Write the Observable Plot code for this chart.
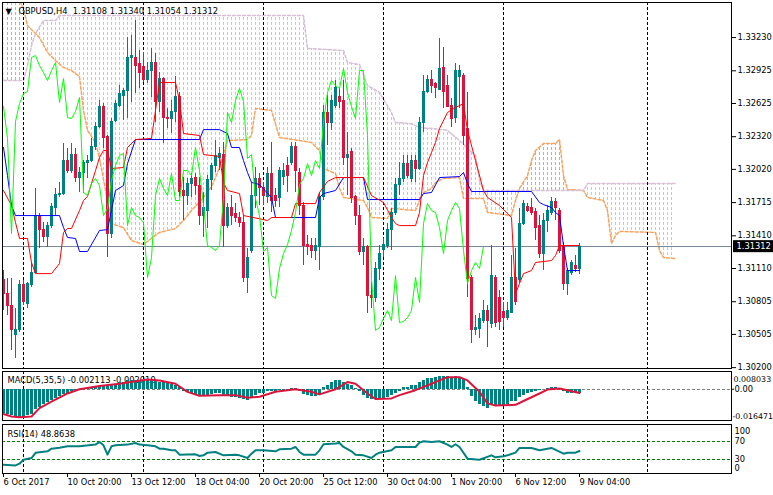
<!DOCTYPE html>
<html><head><meta charset="utf-8">
<script src="https://cdn.jsdelivr.net/npm/d3@7"></script>
<script src="https://cdn.jsdelivr.net/npm/@observablehq/plot@0.6"></script>
<style>
html,body{margin:0;padding:0;background:#fff;}
#chart{position:relative;width:773px;height:495px;overflow:hidden;background:#fff;}
#chart svg{position:absolute;left:0;overflow:visible;}
</style></head><body><div id="chart"></div>
<script>
// ---------- data ----------
const symbol = "GBPUSD", timeframe = "H4";
const open = [1.31000,1.30880,1.30770,1.30495,1.30549,1.30954,1.30788,1.30954,1.31073,1.31596,
1.31459,1.31395,1.31504,1.31670,1.31789,1.31798,1.32101,1.32009,1.32156,1.31945,
1.31991,1.32083,1.32101,1.32221,1.32413,1.32597,1.32313,1.31431,1.32468,1.32606,
1.32698,1.32735,1.33047,1.33047,1.32991,1.32964,1.32844,1.32927,1.33001,1.32634,
1.32854,1.32496,1.32487,1.32551,1.32680,1.31826,1.31780,1.31890,1.31945,1.31872,
1.31596,1.31642,1.31918,1.32055,1.32129,1.32156,1.31504,1.31670,1.31614,1.31578,
1.31532,1.31027,1.31275,1.31780,1.31936,1.31845,1.31762,1.31981,1.31780,1.31753,
1.31954,1.32055,1.32083,1.32221,1.31991,1.31688,1.31330,1.31321,1.31275,1.31303,
1.31762,1.32542,1.32450,1.32606,1.32680,1.32652,1.32120,1.32175,1.31762,1.31596,
1.31266,1.31303,1.30862,1.30835,1.31110,1.31284,1.31321,1.31459,1.31624,1.31881,
1.31936,1.32073,1.31936,1.32101,1.32028,1.32450,1.32726,1.32836,1.32808,1.32753,
1.32955,1.32790,1.32606,1.32496,1.32872,1.32881,1.32395,1.31027,1.30541,1.30559,
1.30632,1.30724,1.30604,1.31027,1.30835,1.30715,1.30660,1.30706,1.31027,1.31000,
1.31522,1.31679,1.31661,1.31633,1.31504,1.31247,1.31550,1.31624,1.31716,1.31642,
1.31321,1.30972,1.31073,1.31137,1.31108];
const high = [1.31091,1.31018,1.31018,1.30743,1.31000,1.31000,1.30982,1.31165,1.31845,1.31614,
1.31532,1.31532,1.31706,1.31845,1.31900,1.32257,1.32212,1.32257,1.32212,1.32037,
1.32101,1.32147,1.32304,1.32450,1.32652,1.32624,1.32331,1.32487,1.32652,1.32790,
1.32763,1.33231,1.33249,1.33386,1.33111,1.33093,1.33001,1.33130,1.33083,1.32909,
1.32863,1.32579,1.32652,1.32872,1.32726,1.31945,1.31936,1.31981,1.31981,1.31945,
1.31808,1.31963,1.32073,1.32285,1.32221,1.32267,1.31706,1.31780,1.31706,1.31624,
1.31596,1.31294,1.31900,1.32037,1.31981,1.31900,1.32037,1.32267,1.31845,1.32037,
1.32073,1.32129,1.32267,1.32267,1.32028,1.31716,1.31413,1.31386,1.31386,1.31808,
1.32606,1.32698,1.32698,1.32836,1.32763,1.32836,1.32359,1.32212,1.31780,1.31688,
1.31386,1.31321,1.30982,1.31165,1.31321,1.31386,1.31522,1.31661,1.31936,1.32083,
1.32147,1.32147,1.32147,1.32147,1.32496,1.32881,1.32881,1.32927,1.32818,1.33222,
1.33139,1.32881,1.32671,1.32991,1.32973,1.32899,1.32726,1.31045,1.30678,1.30696,
1.30816,1.30770,1.31321,1.31045,1.30908,1.30798,1.30798,1.31229,1.31294,1.31661,
1.31734,1.31706,1.31753,1.31661,1.31596,1.31614,1.31688,1.31762,1.31753,1.31661,
1.31349,1.31110,1.31183,1.31229,1.31340];
const low = [1.30724,1.30678,1.30357,1.30284,1.30523,1.30770,1.30743,1.30936,1.31063,1.31294,
1.31349,1.31303,1.31477,1.31596,1.31762,1.31780,1.31981,1.31981,1.31900,1.31808,
1.31798,1.31936,1.32083,1.32193,1.32395,1.32212,1.31211,1.31386,1.32450,1.32588,
1.32468,1.32487,1.32634,1.32716,1.32763,1.32818,1.32808,1.32680,1.32450,1.32542,
1.32257,1.32395,1.32349,1.32450,1.31762,1.31550,1.31688,1.31762,1.31780,1.31504,
1.31395,1.31477,1.31826,1.31991,1.32009,1.31303,1.31477,1.31504,1.31532,1.31486,
1.30982,1.30880,1.31247,1.31661,1.31688,1.31688,1.31706,1.31624,1.31670,1.31670,
1.31872,1.31808,1.32055,1.31808,1.31596,1.31137,1.31229,1.31202,1.31183,1.31091,
1.31734,1.32239,1.32377,1.32579,1.32579,1.32055,1.31780,1.31706,1.31504,1.31229,
1.31137,1.30696,1.30743,1.30798,1.31000,1.31211,1.31294,1.31275,1.31596,1.31780,
1.31900,1.31936,1.31900,1.31900,1.32009,1.32359,1.32716,1.32716,1.32671,1.32744,
1.32579,1.32588,1.32404,1.32440,1.32579,1.32239,1.30844,1.30421,1.30495,1.30468,
1.30604,1.30385,1.30559,1.30568,1.30541,1.30568,1.30632,1.30696,1.30770,1.30972,
1.31504,1.31624,1.31596,1.31367,1.31202,1.31091,1.31441,1.31596,1.31550,1.31247,
1.30908,1.30862,1.31045,1.31073,1.31054];
const close = [1.30880,1.30770,1.30541,1.30541,1.30954,1.30798,1.30972,1.31073,1.31596,1.31459,
1.31395,1.31504,1.31679,1.31789,1.31798,1.32101,1.32009,1.32156,1.31945,1.31991,
1.32083,1.32101,1.32221,1.32413,1.32597,1.32304,1.31431,1.32459,1.32624,1.32716,
1.32735,1.33047,1.33065,1.32973,1.32909,1.32836,1.32927,1.33001,1.32634,1.32854,
1.32496,1.32487,1.32551,1.32680,1.31808,1.31780,1.31890,1.31936,1.31872,1.31596,
1.31661,1.31918,1.32055,1.32147,1.32165,1.31504,1.31670,1.31596,1.31578,1.31532,
1.31027,1.31211,1.31780,1.31936,1.31845,1.31780,1.31981,1.31734,1.31734,1.32009,
1.32009,1.31963,1.32221,1.32009,1.31688,1.31321,1.31303,1.31275,1.31321,1.31762,
1.32542,1.32450,1.32652,1.32763,1.32643,1.32120,1.32156,1.31753,1.31596,1.31266,
1.31303,1.30862,1.30835,1.31110,1.31247,1.31330,1.31459,1.31624,1.31881,1.31936,
1.32073,1.31963,1.32101,1.32028,1.32450,1.32726,1.32836,1.32790,1.32763,1.32946,
1.32726,1.32597,1.32487,1.32927,1.32927,1.32331,1.31018,1.30541,1.30568,1.30651,
1.30724,1.30632,1.31045,1.30614,1.30623,1.30660,1.30724,1.31027,1.30798,1.31522,
1.31706,1.31642,1.31624,1.31486,1.31247,1.31550,1.31642,1.31716,1.31661,1.31275,
1.30972,1.31091,1.31165,1.31110,1.31312];

// Ichimoku lines, read as [bar index, price] vertices
const tenkan = [[0,1.31826],[2,1.31688],[3,1.31532],[4,1.31386],[6,1.31386],[7,1.31165],[8,1.31063],[12,1.31063],[14,1.31155],[15,1.31441],
[16,1.31477],[17,1.31477],[19,1.31642],[20,1.31734],[21,1.31771],[23,1.32009],[24,1.32129],[25,1.32193],[26,1.32193],[27,1.32028],
[30,1.32037],[31,1.32221],[33,1.32294],[37,1.32304],[38,1.32560],[39,1.32818],[43,1.32818],[44,1.32652],[45,1.32349],[49,1.32331],
[50,1.32156],[54,1.32138],[55,1.31900],[56,1.31826],[59,1.31798],[60,1.31596],[65,1.31559],[66,1.31550],[67,1.31578],[72,1.31578],
[73,1.31706],[78,1.31706],[79,1.31808],[81,1.31909],[83,1.31945],[90,1.31945],[92,1.31780],[95,1.31716],[97,1.31578],[98,1.31522],
[99,1.31504],[103,1.31504],[104,1.31624],[105,1.31963],[106,1.32083],[107,1.32175],[108,1.32267],[109,1.32395],[111,1.32542],[113,1.32588],
[115,1.32624],[116,1.32377],[118,1.32101],[120,1.31826],[121,1.31762],[124,1.31688],[126,1.31614],[127,1.31578],[128,1.30880],[129,1.30972],
[130,1.31063],[132,1.31091],[133,1.31165],[137,1.31183],[138,1.31229],[139,1.31321],[144,1.31321]];
const kijun = [[0,1.32221],[1,1.31963],[2,1.31688],[3,1.31596],[14,1.31596],[15,1.31486],[16,1.31395],[18,1.31386],[19,1.31266],[21,1.31266],
[24,1.31459],[26,1.31467],[28,1.31826],[30,1.31872],[31,1.32073],[33,1.32294],[49,1.32294],[50,1.32385],[54,1.32385],[56,1.32349],
[57,1.32221],[59,1.32221],[60,1.32101],[61,1.31991],[62,1.31900],[64,1.31881],[67,1.31762],[68,1.31578],[78,1.31578],[79,1.31762],
[80,1.31798],[83,1.31826],[85,1.31945],[90,1.31945],[91,1.31743],[104,1.31743],[105,1.31798],[107,1.31808],[109,1.31945],[114,1.31954],
[115,1.31991],[116,1.31890],[117,1.31817],[132,1.31817],[134,1.31716],[135,1.31697],[137,1.31670],[138,1.31624],[139,1.31596],[140,1.31321],
[141,1.31091],[144,1.31091]];
const spanA = [[0,1.33845],[5,1.33497],[6,1.33340],[8,1.33267],[9,1.33231],[11,1.33093],[13,1.33019],[15,1.32955],[17,1.32927],[19,1.32872],
[20,1.32560],[21,1.32377],[23,1.32267],[24,1.32120],[26,1.31734],[27,1.31522],[30,1.31486],[32,1.31367],[35,1.31330],[37,1.31386],
[39,1.31441],[43,1.31477],[45,1.31550],[47,1.31642],[50,1.31762],[52,1.31863],[53,1.31945],[54,1.32037],[56,1.32285],[61,1.32294],
[62,1.32331],[63,1.32579],[67,1.32560],[69,1.32313],[77,1.32267],[79,1.32193],[80,1.32028],[83,1.31981],[84,1.31845],[85,1.31762],
[90,1.31734],[91,1.31670],[92,1.31578],[96,1.31569],[97,1.31661],[103,1.31642],[104,1.31734],[105,1.31808],[107,1.31845],[108,1.31900],
[110,1.31936],[114,1.31945],[115,1.31753],[120,1.31753],[121,1.31624],[127,1.31596],[128,1.31734],[129,1.31845],[131,1.31963],[132,1.32101],
[133,1.32193],[135,1.32257],[138,1.32257],[139,1.32294],[140,1.31963],[141,1.31835],[145,1.31826],[146,1.31762],[150,1.31734],[151,1.31642],
[152,1.31339],[153,1.31413],[154,1.31450],[163,1.31441],[164,1.31275],[165,1.31211],[168,1.31202]];
const spanB = [[0,1.32836],[5,1.32836],[6,1.32973],[7,1.33157],[8,1.33267],[10,1.33386],[13,1.33386],[14,1.33432],[75,1.33432],[76,1.33130],
[85,1.33111],[86,1.33001],[89,1.32982],[91,1.32790],[94,1.32726],[97,1.32542],[98,1.32450],[102,1.32440],[104,1.32404],[110,1.32385],
[111,1.32377],[114,1.32285],[116,1.32212],[118,1.32147],[119,1.31918],[120,1.31826],[145,1.31826],[146,1.31890],[168,1.31890]];
const chikouShift = 24;

// MACD(5,35,5): main values per bar (histogram) and signal vertices
const macdMain = [-0.0130,-0.0135,-0.0142,-0.0150,-0.0153,-0.0153,-0.0142,-0.0135,-0.0112,-0.0098,
-0.0085,-0.0073,-0.0059,-0.0050,-0.0041,-0.0028,-0.0023,-0.0014,-0.0011,-0.0007,
0.0000,0.0004,0.0007,0.0011,0.0014,0.0016,0.0014,0.0021,0.0028,0.0036,
0.0039,0.0046,0.0050,0.0048,0.0046,0.0044,0.0046,0.0046,0.0043,0.0039,
0.0036,0.0032,0.0028,0.0021,0.0007,-0.0011,-0.0018,-0.0025,-0.0028,-0.0036,
-0.0039,-0.0036,-0.0028,-0.0023,-0.0021,-0.0036,-0.0041,-0.0043,-0.0046,-0.0050,
-0.0057,-0.0061,-0.0046,-0.0032,-0.0025,-0.0021,-0.0014,-0.0014,-0.0014,-0.0007,
-0.0007,-0.0007,0.0004,0.0004,-0.0014,-0.0028,-0.0036,-0.0041,-0.0041,-0.0028,
0.0007,0.0021,0.0036,0.0046,0.0050,0.0039,0.0028,0.0018,0.0004,-0.0014,
-0.0032,-0.0050,-0.0057,-0.0057,-0.0057,-0.0053,-0.0046,-0.0036,-0.0025,-0.0014,
0.0007,0.0007,0.0018,0.0021,0.0036,0.0050,0.0057,0.0060,0.0064,0.0068,
0.0069,0.0069,0.0066,0.0068,0.0064,0.0053,0.0007,-0.0041,-0.0064,-0.0085,
-0.0096,-0.0103,-0.0085,-0.0094,-0.0094,-0.0089,-0.0082,-0.0068,-0.0064,-0.0046,
-0.0036,-0.0025,-0.0018,-0.0014,-0.0007,0.0000,0.0004,0.0007,0.0007,0.0000,
-0.0014,-0.0021,-0.0025,-0.0025,-0.002113];
const macdSignal = [[0,-0.0135],[2,-0.0148],[4,-0.0153],[7,-0.0148],[9,-0.0103],[12,-0.0068],[16,-0.0023],[19,0],[24,0.0018],[29,0.0030],
[33,0.0043],[36,0.0053],[39,0.0048],[43,0.0030],[46,-0.0014],[49,-0.0036],[54,-0.0032],[58,-0.0032],[61,-0.0046],[64,-0.0041],
[68,-0.0014],[73,0],[77,-0.0014],[79,-0.0028],[83,0],[86,0.0039],[88,0.0030],[91,-0.0023],[93,-0.0053],[97,-0.0050],
[99,-0.0032],[103,-0.0005],[107,0.0030],[111,0.0066],[114,0.0066],[116,0.0048],[119,-0.0014],[121,-0.0077],[123,-0.0089],[128,-0.0085],
[130,-0.0064],[134,-0.0023],[136,-0.0002],[139,0.0004],[141,-0.0005],[144,-0.002019]];
const macdMax = 0.008033, macdMin = -0.016471;

// RSI(14) vertices
const rsi = [[0,19.1],[3,17.6],[4,21.3],[5,30.0],[7,33.6],[8,45.0],[11,48.2],[12,54.0],[14,56.2],[16,59.1],
[19,59.1],[23,62.8],[24,68.6],[25,61.3],[26,40.9],[27,59.1],[28,61.3],[31,62.8],[33,66.4],[34,62.8],
[36,61.3],[38,59.1],[39,54.0],[40,54.0],[42,50.4],[43,50.4],[44,40.9],[48,41.7],[49,38.0],[50,39.5],
[51,45.3],[53,46.8],[55,39.5],[58,40.9],[59,39.5],[61,33.6],[62,43.1],[63,50.4],[65,50.4],[68,48.2],
[69,52.6],[72,54.0],[73,57.7],[74,46.8],[75,40.9],[78,40.9],[79,50.4],[80,63.5],[83,65.0],[84,66.4],
[85,57.7],[87,48.2],[88,40.9],[90,39.5],[92,33.6],[93,40.9],[94,45.3],[97,50.4],[98,57.7],[103,57.7],
[104,67.2],[105,70.1],[107,68.6],[109,70.1],[111,62.8],[112,57.7],[113,63.5],[114,57.7],[116,32.2],[119,30.0],
[122,39.5],[123,35.1],[125,37.3],[126,39.5],[128,45.3],[129,55.5],[132,55.5],[134,50.4],[136,54.0],[137,55.5],
[140,43.1],[141,45.3],[143,45.3],[144,48.8638]];
const rsiLevels = [70, 30];
const rsiLabels = [100, 70, 30, 0];

// axes
const priceTicks = [1.30200,1.30505,1.30805,1.31110,1.31410,1.31715,1.32020,1.32320,1.32625,1.32925,1.33230];
const xTickIdx = [0,16,32,48,64,80,96,112,128,144];
const xTickText = ["6 Oct 2017","10 Oct 20:00","13 Oct 12:00","18 Oct 04:00","20 Oct 20:00","25 Oct 12:00","30 Oct 04:00","1 Nov 20:00","6 Nov 12:00","9 Nov 04:00"];
const separators = [5, 35, 65, 95, 125, 161];

// ---------- styling ----------
const TEAL = "#008080", CRIMSON = "#DC143C";
const SANDY = "#F4A460", THISTLE = "#D8BFD8";
const FONT = "'DejaVu Sans', sans-serif";
const W = 773;
const X = {type: "linear", domain: [-0.25, 182]};
const baseStyle = {fontFamily: FONT, fontSize: "8.3px", color: "black", background: "transparent", overflow: "visible"};
const f5 = v => v.toFixed(5), f6 = v => v.toFixed(6);
const pts = arr => arr.map(([i, v]) => ({i, v}));

const last = close.length - 1;
const bars = close.map((c, i) => ({i, o: open[i], h: high[i], l: low[i], c, top: Math.max(open[i], c), bot: Math.min(open[i], c)}));
const ups = bars.filter(d => d.c >= d.o), downs = bars.filter(d => d.c < d.o);
const A = pts(spanA), B = pts(spanB);
const cloudBars = d3.range(0, spanA[spanA.length - 1][0] + 1);   // one hatch stroke per bar of the cloud
const chikou = close.map((c, i) => ({i: i - chikouShift, v: c})).filter(d => d.i >= 0);
const Y_LO = 1.2, Y_HI = 1.45;
const sepMarks = () => Plot.ruleX(separators, {stroke: "black", strokeDasharray: "3,2", shapeRendering: "crispEdges"});

const container = document.getElementById("chart");

// ---------- main price panel ----------
const main = Plot.plot({
  width: W, height: 370, marginTop: 2, marginBottom: 2, marginLeft: 2, marginRight: 42,
  x: {...X, axis: null},
  y: {type: "linear", domain: [1.30192, 1.33552]},
  style: baseStyle,
  marks: [
    // clip shapes (turned into clipPaths below)
    Plot.areaY(A, {x: "i", y1: "v", y2: Y_LO, fill: "#0a0a01"}),
    Plot.areaY(A, {x: "i", y1: "v", y2: Y_HI, fill: "#0a0a02"}),
    Plot.areaY(B, {x: "i", y1: "v", y2: Y_LO, fill: "#0a0a03"}),
    Plot.areaY(B, {x: "i", y1: "v", y2: Y_HI, fill: "#0a0a04"}),
    // dotted hatching of the cloud
    Plot.ruleX(cloudBars, {stroke: "#F4A461", strokeDasharray: "3,2", shapeRendering: "crispEdges"}),
    Plot.ruleX(cloudBars, {stroke: "#D8BFD9", strokeDasharray: "3,2", shapeRendering: "crispEdges"}),
    Plot.line(A, {x: "i", y: "v", stroke: SANDY, strokeDasharray: "3,2", clip: true}),
    Plot.line(B, {x: "i", y: "v", stroke: THISTLE, strokeDasharray: "3,2", clip: true}),
    sepMarks(),
    Plot.ruleY([close[last]], {stroke: "#778899", shapeRendering: "crispEdges"}),
    Plot.ruleX(ups, {x: "i", y1: "h", y2: "l", stroke: TEAL, shapeRendering: "crispEdges"}),
    Plot.ruleX(downs, {x: "i", y1: "h", y2: "l", stroke: CRIMSON, shapeRendering: "crispEdges"}),
    Plot.ruleX(ups, {x: "i", y1: "top", y2: "bot", stroke: TEAL, strokeWidth: 3, insetTop: -0.5, insetBottom: -0.5, shapeRendering: "crispEdges"}),
    Plot.ruleX(downs, {x: "i", y1: "top", y2: "bot", stroke: CRIMSON, strokeWidth: 3, insetTop: -0.5, insetBottom: -0.5, shapeRendering: "crispEdges"}),
    Plot.line(pts(kijun), {x: "i", y: "v", stroke: "#0000FF", strokeWidth: 1}),
    Plot.line(pts(tenkan), {x: "i", y: "v", stroke: "#FF0000", strokeWidth: 1}),
    Plot.line(chikou, {x: "i", y: "v", stroke: "#00FF00", strokeWidth: 1}),
    Plot.axisY(priceTicks, {anchor: "right", tickFormat: f5, tickSize: 4, tickPadding: 2, label: null, stroke: "black"}),
    Plot.frame({stroke: "black", shapeRendering: "crispEdges"}),
    Plot.text(["\u25BC"], {frameAnchor: "top-left", dx: 3, dy: 8.5, lineAnchor: "middle", textAnchor: "start", fontSize: 8}),
    Plot.text([`${symbol},${timeframe}  ${f5(open[last])} ${f5(high[last])} ${f5(low[last])} ${f5(close[last])}`],
      {frameAnchor: "top-left", dx: 16, dy: 8.5, lineAnchor: "middle", textAnchor: "start"}),
    Plot.text([close[last]], {y: d => d, frameAnchor: "right", dx: 5, textAnchor: "start", text: d => f5(d), fill: "#fefefe"})
  ]
});
main.style.top = "0px";
container.append(main);
{
  const s = d3.select(main);
  const defs = s.insert("defs", ":first-child");
  const toClip = (fill, id) => {
    const g = s.select(`g[fill="${fill}"]`);
    const d = g.select("path").attr("d");
    g.remove();
    defs.append("clipPath").attr("id", id).append("path").attr("d", d);
  };
  toClip("#0a0a01", "belowA");
  toClip("#0a0a02", "aboveA");
  toClip("#0a0a03", "belowB");
  toClip("#0a0a04", "aboveB");
  // hatch colour where A is on top: below A and above B; thistle where B is on top
  const nest = (stroke, color, inner, outer) => {
    const g = s.select(`g[stroke="${stroke}"]`);
    g.attr("stroke", color).attr("clip-path", `url(#${inner})`);
    const node = g.node();
    const wrap = document.createElementNS("http://www.w3.org/2000/svg", "g");
    node.parentNode.insertBefore(wrap, node);
    wrap.appendChild(node);
    wrap.setAttribute("clip-path", `url(#${outer})`);
  };
  nest("#F4A461", SANDY, "belowA", "aboveB");
  nest("#D8BFD9", THISTLE, "belowB", "aboveA");
  // black box behind the current price label
  const g = s.select('g[fill="#fefefe"]');
  const t = g.select("text").node();
  if (t) {
    const bb = t.getBBox();
    const m = t.getCTM();
    s.insert("rect", () => g.node()).attr("x", 733).attr("y", bb.y + (m ? m.f : 0) - 1)
      .attr("width", 40).attr("height", bb.height + 2).attr("fill", "black");
  }
}

// ---------- MACD panel ----------
const macdBars = macdMain.map((v, i) => ({i, v}));
const macd = Plot.plot({
  width: W, height: 52, marginTop: 1, marginBottom: 2, marginLeft: 2, marginRight: 42,
  insetTop: 3, insetBottom: 1,
  x: {...X, axis: null},
  y: {type: "linear", domain: [macdMin, macdMax]},
  style: baseStyle,
  marks: [
    Plot.ruleY([0], {stroke: "#808080", strokeDasharray: "3,2", shapeRendering: "crispEdges"}),
    sepMarks(),
    Plot.text([`MACD(5,35,5) ${f6(macdMain[last])} ${f6(macdSignal[macdSignal.length - 1][1])}`],
      {frameAnchor: "top-left", dx: 5, dy: 9, lineAnchor: "middle", textAnchor: "start"}),
    Plot.ruleX(macdBars, {x: "i", y1: 0, y2: "v", stroke: TEAL, strokeWidth: 3, shapeRendering: "crispEdges"}),
    Plot.line(pts(macdSignal), {x: "i", y: "v", stroke: CRIMSON, strokeWidth: 2}),
    Plot.axisY([0], {anchor: "right", tickFormat: () => "0.00", tickSize: 2, tickPadding: 1, label: null}),
    Plot.text([macdMax], {y: d => d, frameAnchor: "right", dx: 2, dy: 5, textAnchor: "start", text: d => f6(d), fontSize: 7.9}),
    Plot.text([macdMin], {y: d => d, frameAnchor: "right", dx: 1, dy: -3, textAnchor: "start", text: d => f6(d), fontSize: 7.9}),
    Plot.frame({stroke: "black", shapeRendering: "crispEdges"})
  ]
});
macd.style.top = "370px";
container.append(macd);

// ---------- RSI panel ----------
const rsiPanel = Plot.plot({
  width: W, height: 72, marginTop: 1, marginBottom: 22, marginLeft: 2, marginRight: 42,
  insetTop: 3,
  x: X,
  y: {type: "linear", domain: [0, 100], axis: null},
  style: baseStyle,
  marks: [
    Plot.ruleY(rsiLevels, {stroke: "#008000", strokeDasharray: "3,2", shapeRendering: "crispEdges"}),
    sepMarks(),
    Plot.text([`RSI(14) ${rsi[rsi.length - 1][1].toFixed(4)}`],
      {frameAnchor: "top-left", dx: 5, dy: 9.5, lineAnchor: "middle", textAnchor: "start"}),
    Plot.line(pts(rsi), {x: "i", y: "v", stroke: TEAL, strokeWidth: 2}),
    Plot.text(rsiLabels, {y: d => d, frameAnchor: "right", dx: 3, textAnchor: "start", text: d => String(d)}),
    Plot.axisX(xTickIdx, {anchor: "bottom", tickFormat: d => xTickText[xTickIdx.indexOf(d)], tickSize: 4, tickPadding: 2,
      textAnchor: "start", label: null}),
    Plot.frame({stroke: "black", shapeRendering: "crispEdges"})
  ]
});
rsiPanel.style.top = "423px";
container.append(rsiPanel);
// nudge the 100 / 0 labels inward as the terminal does
d3.select(rsiPanel).selectAll("text").each(function () {
  if (this.textContent === "100") d3.select(this).attr("dy", "4");
  if (this.textContent === "0") d3.select(this).attr("dy", "-5");
});
</script></body></html>
